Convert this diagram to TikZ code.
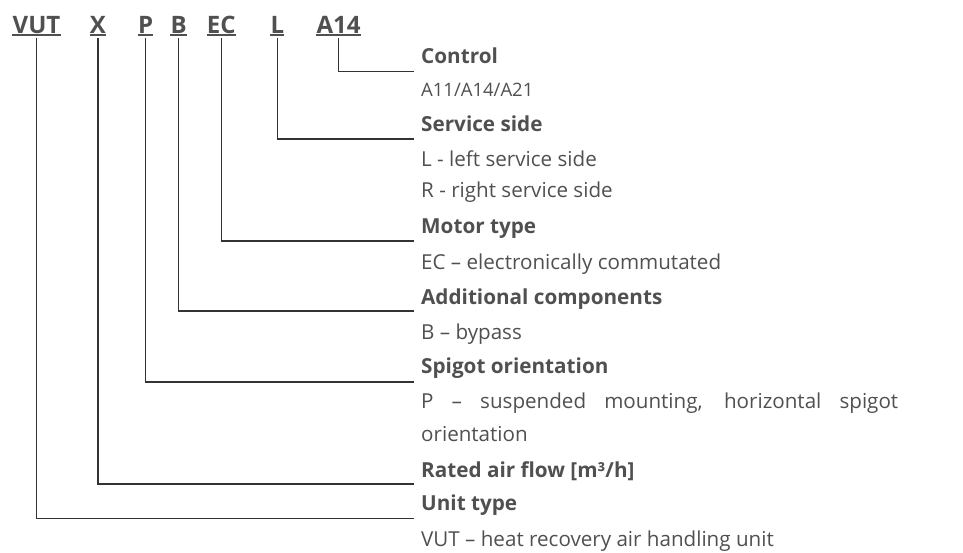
\documentclass[tikz,border=0pt]{standalone}
\usepackage{fontspec}
\setmainfont{Open Sans}
\definecolor{txt}{HTML}{505050}
\definecolor{ln}{HTML}{333333}
\begin{document}
\begin{tikzpicture}[x=1pt,y=-1pt,
  code/.style={anchor=base,inner sep=0pt,text=txt,font=\fontsize{24}{26}\selectfont\bfseries},
  head/.style={anchor=base west,inner sep=0pt,text=txt,font=\fontsize{20.7}{24}\selectfont\bfseries},
  desc/.style={anchor=base west,inner sep=0pt,text=txt,font=\fontsize{20.6}{24}\selectfont},
  small/.style={anchor=base west,inner sep=0pt,text=txt,font=\fontsize{18.5}{20}\selectfont},
  conn/.style={draw=ln,line width=1.1pt},
  uline/.style={draw=txt,line width=1.3pt}]
\useasboundingbox (0,0) rectangle (963,552);
% codes
\node[code] (cVUT) at (36.5,33) {VUT};
\node[code] (cX) at (98,33) {X};
\node[code] (cP) at (145.7,33) {P};
\node[code] (cB) at (178.7,33) {B};
\node[code] (cEC) at (221.3,33) {EC};
\node[code] (cL) at (277.3,33) {L};
\node[code] (cA) at (338.5,33) {A14};
\foreach \n in {cVUT,cX,cP,cB,cEC,cL,cA}{
  \draw[uline] ([yshift=-2pt]\n.base west) -- ([yshift=-2pt]\n.base east);
}
% headings
\node[head] (hCtl) at (421,63.3) {Control};
\node[small] (dCtl) at (421,96) {A11/A14/A21};
\node[head] (hSrv) at (421,131) {Service side};
\node[desc] (dSrv1) at (421,166) {L - left service side};
\node[desc] (dSrv2) at (421,197.7) {R - right service side};
\node[head] (hMot) at (421,233) {Motor type};
\node[desc] (dMot) at (421,269) {EC – electronically commutated};
\node[head] (hAdd) at (421,304) {Additional components};
\node[desc] (dAdd) at (421,339) {B – bypass};
\node[head] (hSpg) at (421,373) {Spigot orientation};
\node[desc,anchor=base west] (dSpg1) at (421,408) {\makebox[477pt][s]{P – suspended mounting, horizontal spigot}};
\node[desc] (dSpg2) at (421,441) {orientation};
\node[head] (hRat) at (421,477) {Rated air flow [m³/h]};
\node[head] (hUnit) at (421,510) {Unit type};
\node[desc] (dUnit) at (421,546) {VUT – heat recovery air handling unit};
% end coordinates
\coordinate (eCtl) at (414,71.5);
\coordinate (eSrv) at (414,139);
\coordinate (eMot) at (414,241);
\coordinate (eAdd) at (414,311);
\coordinate (eSpg) at (414,382);
\coordinate (eRat) at (414,484);
\coordinate (eUnit) at (414,518.5);
% connectors
\draw[conn] ([yshift=-5pt]cA.base) |- (eCtl);
\draw[conn] ([yshift=-5pt]cL.base) |- (eSrv);
\draw[conn] ([yshift=-5pt]cEC.base) |- (eMot);
\draw[conn] ([yshift=-5pt]cB.base) |- (eAdd);
\draw[conn] ([yshift=-5pt]cP.base) |- (eSpg);
\draw[conn] ([yshift=-5pt]cX.base) |- (eRat);
\draw[conn] ([yshift=-5pt]cVUT.base) |- (eUnit);
\end{tikzpicture}
\end{document}
